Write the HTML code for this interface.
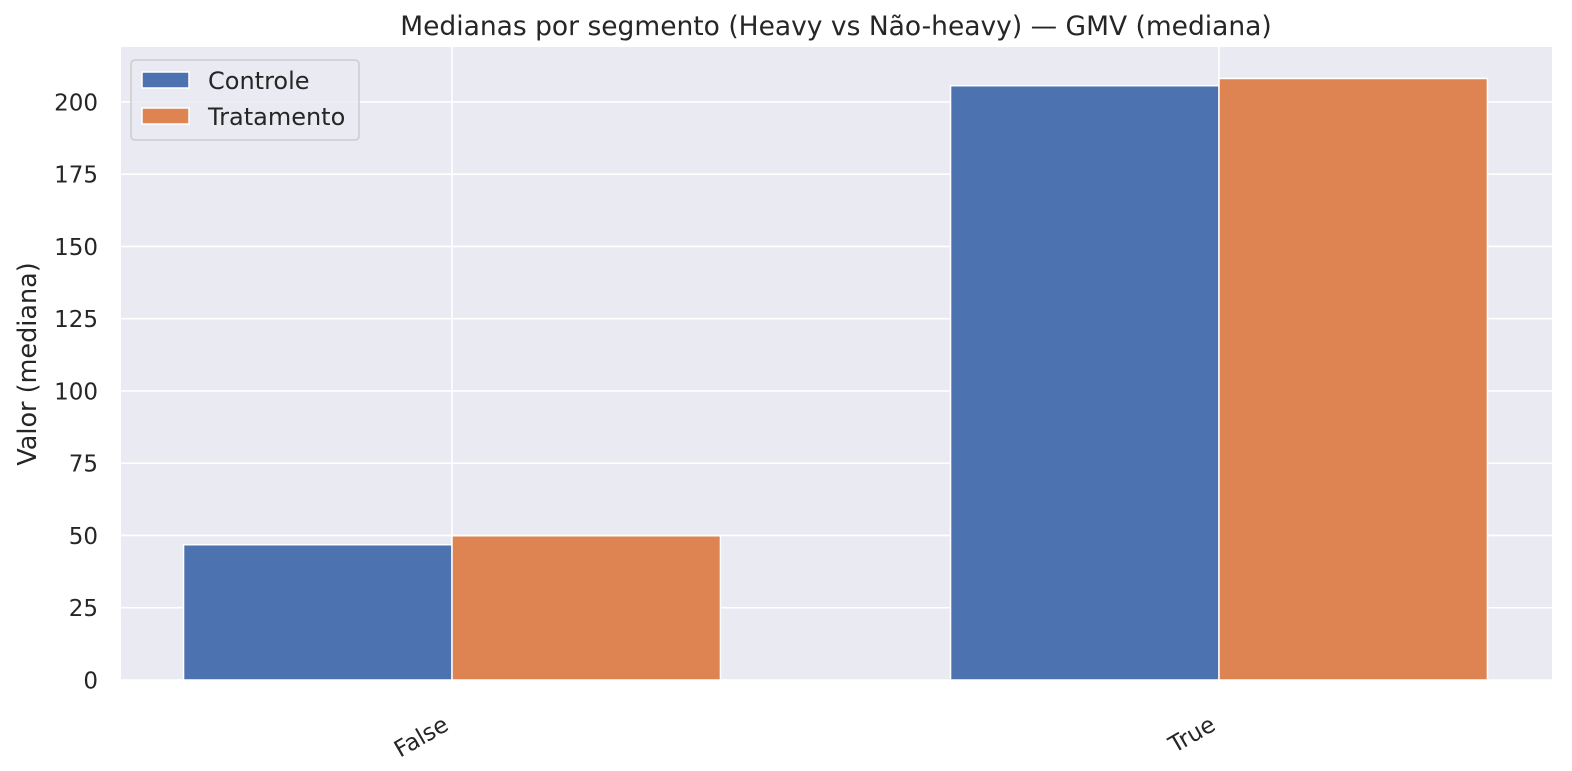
<!DOCTYPE html>
<html><head><meta charset="utf-8"><style>
html,body{margin:0;padding:0;background:#fff;overflow:hidden;width:1572px;height:771px;}
svg{display:block;font-family:"DejaVu Sans","Liberation Sans",sans-serif;}
</style></head><body>
<svg id="chart" width="1572" height="771">
<text x="836" y="35" text-anchor="middle" font-size="26.5" fill="#262626">Medianas por segmento (Heavy vs Não-heavy) — GMV (mediana)</text>
<rect x="121" y="47" width="1431" height="633" fill="#eaeaf2"/>
<g id="grid"></g><g id="bars"></g><g id="ticks"></g>
<text transform="translate(36,364) rotate(-90)" text-anchor="middle" font-size="25.5" fill="#262626">Valor (mediana)</text>
<g>
<rect x="131" y="60" width="228" height="80" rx="4" fill="#eaeaf2" stroke="#cccccc" stroke-width="1.5" fill-opacity="0.8"/>
<rect x="142" y="72" width="47" height="16" fill="#4c72b0" stroke="#fff" stroke-width="1.5"/>
<text x="208" y="89" font-size="24" fill="#262626">Controle</text>
<rect x="142" y="108" width="47" height="16" fill="#dd8452" stroke="#fff" stroke-width="1.5"/>
<text x="208" y="125" font-size="24" fill="#262626">Tratamento</text>
</g>
</svg>
<script>
const categories=["False","True"];
const controle=[46.8,205.6];
const tratamento=[49.9,208.1];
const yTicks=[0,25,50,75,100,125,150,175,200];
const NS="http://www.w3.org/2000/svg";
const y0=680,pxPer=2.8905;
const y=v=>y0-v*pxPer;
const x=c=>452+c*767;
const unit=767,bw=0.35*unit;
function mk(tag,attrs,parent){const e=document.createElementNS(NS,tag);for(const k in attrs)e.setAttribute(k,attrs[k]);document.getElementById(parent).appendChild(e);return e;}
yTicks.forEach(t=>{
 const g=mk("line",{x1:121,x2:1552,y1:y(t),y2:y(t),stroke:"#fff","stroke-width":1.6},"grid");
 
 
 const l=mk("text",{x:98,y:y(t)+8.5,"text-anchor":"end","font-size":23,fill:"#262626"},"ticks");
 l.textContent=t;
 
 
});
categories.forEach((c,i)=>{
 const g=mk("line",{x1:x(i),x2:x(i),y1:47,y2:680,stroke:"#fff","stroke-width":1.6},"grid");
 
 
 const b1=mk("rect",{x:x(i)-bw,y:y(controle[i]),width:bw,height:controle[i]*pxPer,fill:"#4c72b0",stroke:"#fff","stroke-width":1.5},"bars");
 
 
 const b2=mk("rect",{x:x(i),y:y(tratamento[i]),width:bw,height:tratamento[i]*pxPer,fill:"#dd8452",stroke:"#fff","stroke-width":1.5},"bars");
 
 
 const l=mk("text",{x:0,y:0,"text-anchor":"end","font-size":23,fill:"#262626",transform:`translate(${x(i)-2},${729}) rotate(-30)`},"ticks");
 l.textContent=c;
 
 
});
</script>
</body></html>
